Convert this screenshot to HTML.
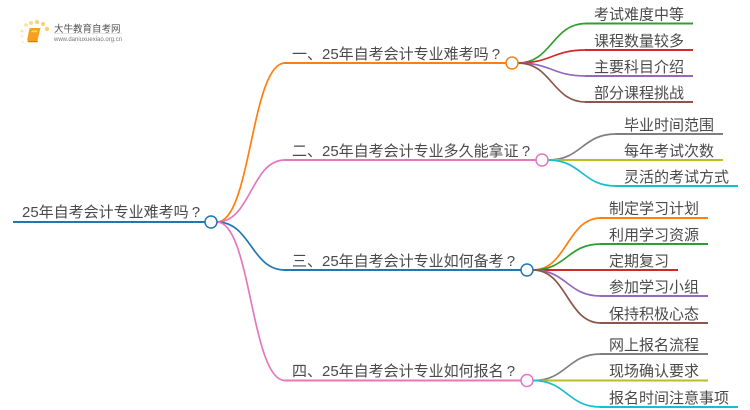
<!DOCTYPE html>
<html><head><meta charset="utf-8"><style>
html,body{margin:0;padding:0;background:#fff}
svg{display:block}
text{font-family:"Liberation Sans","Noto Sans CJK SC",sans-serif;font-size:15px;fill:#4a4a4a}
.l{fill:none;stroke-width:2}
.c{fill:none;stroke-width:1.7}
</style></head><body>
<svg width="750" height="410" viewBox="0 0 750 410" xmlns="http://www.w3.org/2000/svg">
<!-- logo -->
<g>
<circle cx="26" cy="25" r="1.8" fill="#fbdf9c"/><circle cx="31" cy="23" r="2" fill="#fbd98c"/><circle cx="37" cy="22" r="2" fill="#fbd070"/><circle cx="43" cy="24" r="2" fill="#fbd070"/><circle cx="47" cy="29" r="2.2" fill="#fbd070"/><circle cx="22" cy="31" r="1.5" fill="#fbe3a8"/><circle cx="22" cy="36" r="1.3" fill="#fdeec8"/><circle cx="23" cy="42" r="1.2" fill="#fdeec8"/>
<path d="M31 28h9.500l-.5 1.500-2.500 11.500H28.500q-1.500 0-1.300-1.500l2-10q.3-1.500 1.800-1.500z" fill="#f5a020"/>
<path d="M31.500 30.500h6l-.4 1.800h-6z" fill="#fcd27a"/>
<path d="M27.500 41h10.500l-.3 1.300H28z" fill="#d97f0c"/>
</g>
<text x="54" y="32" style="font-size:9.500px;fill:#555">大牛教育自考网</text>
<path d="M54 33.500h68" stroke="#ddd" stroke-width=".7"/>
<text x="54" y="41" style="font-size:6px;fill:#777">www.daniuxuexiao.org.cn</text>
<!-- root to branches -->
<path class="c" stroke="#ff7f0e" d="M217 222C251 222 251 63 285 63"/><path class="l" stroke="#ff7f0e" d="M284 63H506"/>
<path class="c" stroke="#e377c2" d="M217 222C251 222 251 160 285 160"/><path class="l" stroke="#e377c2" d="M284 160H536"/>
<path class="c" stroke="#1f77b4" d="M217 222C251 222 251 270 285 270"/><path class="l" stroke="#1f77b4" d="M284 270H521"/>
<path class="c" stroke="#e377c2" d="M217 222C251 222 251 380.500 285 380.500"/><path class="l" stroke="#e377c2" d="M284 380.500H521"/>
<path class="l" stroke="#1f77b4" d="M13 222H205"/>
<!-- branch 1 -->
<path class="c" stroke="#2ca02c" d="M518 63C552 63 552 23.500 586 23.500"/><path class="l" stroke="#2ca02c" d="M585 23.500H693"/>
<path class="c" stroke="#d62728" d="M518 63C552 63 552 50 586 50"/><path class="l" stroke="#d62728" d="M585 50H693"/>
<path class="c" stroke="#9467bd" d="M518 63C552 63 552 76 586 76"/><path class="l" stroke="#9467bd" d="M585 76H693"/>
<path class="c" stroke="#8c564b" d="M518 63C552 63 552 102 586 102"/><path class="l" stroke="#8c564b" d="M585 102H693"/>
<!-- branch 2 -->
<path class="c" stroke="#7f7f7f" d="M548 160C582 160 582 134 616 134"/><path class="l" stroke="#7f7f7f" d="M615 134H723"/>
<path class="l" stroke="#bcbd22" d="M548 160H723"/>
<path class="c" stroke="#17becf" d="M548 160C582 160 582 186 616 186"/><path class="l" stroke="#17becf" d="M615 186H738"/>
<!-- branch 3 -->
<path class="c" stroke="#ff7f0e" d="M533 270C567 270 567 218 601 218"/><path class="l" stroke="#ff7f0e" d="M600 218H708"/>
<path class="c" stroke="#2ca02c" d="M533 270C567 270 567 244 601 244"/><path class="l" stroke="#2ca02c" d="M600 244H708"/>
<path class="l" stroke="#d62728" d="M533 270H678"/>
<path class="c" stroke="#9467bd" d="M533 270C567 270 567 296 601 296"/><path class="l" stroke="#9467bd" d="M600 296H708"/>
<path class="c" stroke="#8c564b" d="M533 270C567 270 567 323 601 323"/><path class="l" stroke="#8c564b" d="M600 323H708"/>
<!-- branch 4 -->
<path class="c" stroke="#7f7f7f" d="M533 380.500C567 380.500 567 354 601 354"/><path class="l" stroke="#7f7f7f" d="M600 354H708"/>
<path class="l" stroke="#bcbd22" d="M533 380.500H708"/>
<path class="c" stroke="#17becf" d="M533 380.500C567 380.500 567 407 601 407"/><path class="l" stroke="#17becf" d="M600 407H738"/>
<!-- nodes -->
<circle cx="211" cy="222" r="6" fill="#fff" stroke="#1f77b4" stroke-width="1.500"/>
<circle cx="512" cy="63" r="6" fill="#fff" stroke="#ff7f0e" stroke-width="1.500"/>
<circle cx="542" cy="160" r="6" fill="#fff" stroke="#e377c2" stroke-width="1.500"/>
<circle cx="527" cy="270" r="6" fill="#fff" stroke="#1f77b4" stroke-width="1.500"/>
<circle cx="527" cy="380.500" r="6" fill="#fff" stroke="#e377c2" stroke-width="1.500"/>
<!-- labels -->
<text x="22" y="217">25年自考会计专业难考吗<tspan dx="3">?</tspan></text>
<text x="292" y="59">一、25年自考会计专业难考吗<tspan dx="3">?</tspan></text>
<text x="292" y="156">二、25年自考会计专业多久能拿证<tspan dx="3">?</tspan></text>
<text x="292" y="266">三、25年自考会计专业如何备考<tspan dx="3">?</tspan></text>
<text x="292" y="376">四、25年自考会计专业如何报名<tspan dx="3">?</tspan></text>
<text x="594" y="19.500">考试难度中等</text>
<text x="594" y="46">课程数量较多</text>
<text x="594" y="72">主要科目介绍</text>
<text x="594" y="98">部分课程挑战</text>
<text x="624" y="130">毕业时间范围</text>
<text x="624" y="156">每年考试次数</text>
<text x="624" y="182">灵活的考试方式</text>
<text x="609" y="213.500">制定学习计划</text>
<text x="609" y="240">利用学习资源</text>
<text x="609" y="266">定期复习</text>
<text x="609" y="292">参加学习小组</text>
<text x="609" y="319">保持积极心态</text>
<text x="609" y="350">网上报名流程</text>
<text x="609" y="376">现场确认要求</text>
<text x="609" y="403">报名时间注意事项</text>
</svg>
</body></html>
